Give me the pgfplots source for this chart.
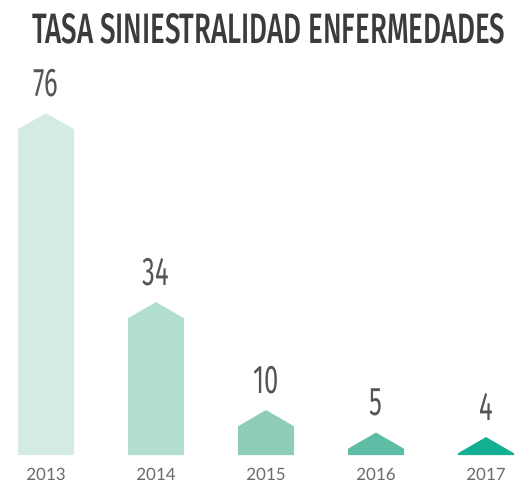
\documentclass[border=0pt]{standalone}
\usepackage{pgfplots}
\pgfplotsset{compat=1.18}
\usepackage{graphicx}
\usepackage{fontspec}
\setmainfont{Lato}
\newfontfamily\titlefont{Fira Sans Medium}
\newfontfamily\numfont{Fira Sans}[FakeStretch=0.64]
\definecolor{c13}{HTML}{D4EBE3}
\definecolor{c14}{HTML}{B2DDD1}
\definecolor{c15}{HTML}{8FCDBA}
\definecolor{c16}{HTML}{60BDA5}
\definecolor{c17}{HTML}{14AF93}
\definecolor{titlec}{HTML}{3B3B3B}
\definecolor{numc}{HTML}{555555}
\definecolor{yearc}{HTML}{6B6B6B}
\begin{document}
\begin{tikzpicture}
\begin{axis}[
  at={(0,0)}, anchor=south west,
  scale only axis, width=514pt, height=455pt,
  xmin=-0.41818, xmax=4.2545, ymin=0, ymax=101.111,
  axis line style={draw=none},
  clip=false,
  ytick=\empty,
  xtick={0,1,2,3,4},
  xticklabels={2013,2014,2015,2016,2017},
  major tick length=0pt,
  xticklabel style={anchor=base, yshift=-25pt, font=\fontsize{17}{17}\selectfont, text=yearc, inner sep=0pt},
  nodes near coords style={anchor=base, yshift=17pt, font=\numfont\fontsize{40}{40}\selectfont, text=numc, inner sep=0pt},
]
\addplot[fill=c13, draw=none] coordinates {(-0.2545,0) (-0.2545,72.4) (0,76) (0.2545,72.4) (0.2545,0)} \closedcycle;
\addplot[fill=c14, draw=none] coordinates {(0.7455,0) (0.7455,30.4) (1,34) (1.2545,30.4) (1.2545,0)} \closedcycle;
\addplot[fill=c15, draw=none] coordinates {(1.7455,0) (1.7455,6.4) (2,10) (2.2545,6.4) (2.2545,0)} \closedcycle;
\addplot[fill=c16, draw=none] coordinates {(2.7455,0) (2.7455,1.4) (3,5) (3.2545,1.4) (3.2545,0)} \closedcycle;
\addplot[fill=c17, draw=none] coordinates {(3.7455,0) (3.7455,0.4) (4,4) (4.2545,0.4) (4.2545,0)} \closedcycle;
\addplot[draw=none, mark=none, nodes near coords, point meta=explicit symbolic]
  coordinates {(0,76) [76] (1,34) [34] (2,10) [10] (3,5) [5] (4,4) [4]};
\end{axis}
\node[anchor=base west, inner sep=0pt, text=titlec] at (32pt,412pt)
  {\resizebox{473pt}{30pt}{\titlefont TASA SINIESTRALIDAD ENFERMEDADES}};
\path (0,-29pt) rectangle (514pt,455pt);
\end{tikzpicture}
\end{document}
